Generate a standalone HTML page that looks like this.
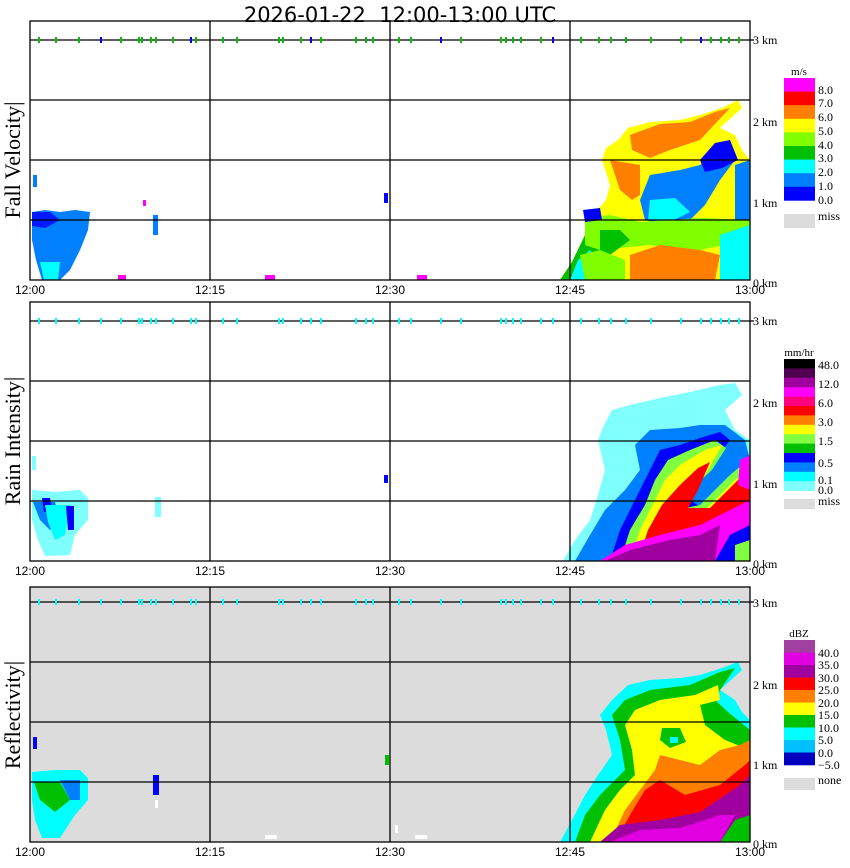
<!DOCTYPE html>
<html><head><meta charset="utf-8">
<style>
body{margin:0;background:#fff;}
svg{display:block;font-family:"Liberation Serif",serif;}
</style></head><body>
<svg width="850" height="868" viewBox="0 0 850 868" xmlns="http://www.w3.org/2000/svg">
<text x="400" y="22" font-family="DejaVu Sans,sans-serif" font-size="21" text-anchor="middle" style="white-space:pre" xml:space="preserve">2026-01-22  12:00-13:00 UTC</text>

<!-- Panel 1 -->
<g id="p1">
<polygon points="32,212 45,210 60,212 75,210 90,212 88,230 80,250 70,270 60,280 42,280 36,260 32,240" fill="#0080ff"/>
<polygon points="32,212 50,212 60,220 45,228 32,226" fill="#0000ff" opacity=".8"/>
<polygon points="40,262 60,262 58,280 44,280" fill="#00ffff"/>
<rect x="33" y="175" width="4" height="12" fill="#0080ff"/>
<rect x="153" y="215" width="5" height="20" fill="#0080ff"/>
<rect x="384" y="193" width="4" height="10" fill="#0000ff"/>
<rect x="143" y="200" width="3" height="6" fill="#ff00ff"/>
<rect x="118" y="275" width="8" height="5" fill="#ff00ff"/>
<rect x="265" y="275" width="10" height="5" fill="#ff00ff"/>
<rect x="417" y="275" width="10" height="5" fill="#ff00ff"/>
<polygon points="560,280 572,262 585,235 596,212 606,200 610,185 602,160 606,148 618,140 628,128 650,122 680,120 700,115 722,108 738,100 742,108 720,128 735,135 742,150 750,160 750,280" fill="#ffff00"/>
<polygon points="560,280 572,262 585,235 596,212 600,220 612,222 615,240 605,250 600,280" fill="#00c000"/>
<polygon points="570,280 578,260 590,250 598,262 590,280" fill="#00ffff"/>
<polygon points="630,135 660,124 690,122 715,112 730,108 700,140 670,150 650,158 632,150" fill="#ff8000"/>
<polygon points="610,160 640,165 640,195 632,200 620,190" fill="#ff8000"/>
<polygon points="650,175 680,170 700,165 720,150 730,145 735,160 720,180 705,205 690,220 665,225 645,220 640,200" fill="#0080ff"/>
<polygon points="700,160 715,143 730,140 738,160 722,168 705,172" fill="#0000ff"/>
<polygon points="735,165 750,160 750,230 735,225" fill="#0080ff"/>
<polygon points="650,200 675,198 690,212 670,222 648,220" fill="#00ffff"/>
<polygon points="585,218 610,215 640,222 700,218 750,220 750,240 700,250 650,245 600,250 585,245" fill="#80ff00"/>
<polygon points="600,230 620,230 630,240 610,255 600,250" fill="#00c000"/>
<polygon points="720,235 750,225 750,280 720,280" fill="#00ffff"/>
<polygon points="630,255 660,245 700,250 720,255 715,280 630,280" fill="#ff8000"/>
<polygon points="580,255 600,250 625,260 625,280 585,280" fill="#80ff00"/>
<polygon points="583,210 600,208 602,220 585,222" fill="#0000ff"/>
</g>

<!-- Panel 2 -->
<g>
<polygon points="32,456 36,456 36,470 32,470" fill="#80ffff"/>
<polygon points="32,490 55,492 80,490 88,498 88,520 75,535 70,555 45,556 38,540 32,520" fill="#80ffff"/>
<polygon points="33,502 55,502 60,520 50,530 40,520" fill="#0080ff"/>
<polygon points="42,498 50,498 52,512 44,512" fill="#0000ff"/>
<polygon points="45,505 70,505 65,535 55,540 48,522" fill="#00ffff"/>
<polygon points="66,506 74,506 74,530 68,530" fill="#0000ff"/>
<rect x="155" y="497" width="6" height="20" fill="#80ffff"/>
<rect x="384" y="475" width="4" height="8" fill="#0000ff"/>
<polygon points="563,561 575,540 590,520 598,495 605,470 598,440 604,425 612,410 630,405 660,398 690,392 720,385 735,383 742,395 725,410 735,430 750,440 750,561" fill="#80ffff"/>
<polygon points="575,561 590,535 605,510 625,490 640,470 635,445 650,430 680,428 700,425 725,425 745,440 750,460 750,561" fill="#0080ff"/>
<polygon points="610,561 620,530 635,500 650,470 660,450 680,445 700,438 720,432 730,440 715,460 700,475 690,500 705,510 730,480 748,455 750,561" fill="#0000ff"/>
<polygon points="620,561 630,530 645,505 655,480 668,460 690,450 715,440 726,448 712,470 690,490 675,510 700,505 730,475 748,460 750,561" fill="#80ff40"/>
<polygon points="630,561 640,530 650,510 665,480 680,465 705,450 722,445 705,475 690,495 680,515 700,515 735,480 750,470 750,561" fill="#ffff00"/>
<polygon points="638,561 648,530 662,505 680,485 698,468 710,462 698,490 688,508 710,508 740,478 750,480 750,561" fill="#ff0000"/>
<polygon points="740,460 750,455 750,490 738,485" fill="#ff00ff"/>
<polygon points="600,561 625,545 660,535 700,525 740,505 750,500 750,561" fill="#ff00ff"/>
<polygon points="605,561 630,550 670,540 700,535 720,525 715,561" fill="#a000a0"/>
<polygon points="715,561 730,535 750,525 750,561" fill="#0000ff"/>
<polygon points="735,545 750,540 750,561 735,561" fill="#80ff40"/>
</g>

<rect x="30" y="587" width="720" height="255" fill="#dcdcdc"/>
<g>
<polygon points="32,772 55,770 80,770 88,778 88,800 75,815 60,838 42,838 35,820 32,800" fill="#00ffff"/>
<polygon points="34,782 60,782 70,800 55,812 40,800" fill="#00c000"/>
<polygon points="60,780 80,780 80,800 70,800" fill="#0080ff"/>
<rect x="33" y="737" width="4" height="12" fill="#0000ff"/>
<rect x="153" y="775" width="6" height="20" fill="#0000ff"/>
<rect x="385" y="755" width="4" height="10" fill="#00c000"/>
<rect x="155" y="800" width="3" height="8" fill="#fff"/>
<rect x="395" y="825" width="3" height="8" fill="#fff"/>
<rect x="265" y="835" width="12" height="4" fill="#fff"/>
<rect x="415" y="835" width="12" height="4" fill="#fff"/>
<polygon points="560,842 572,820 585,795 598,775 605,765 612,755 606,730 600,715 612,700 628,685 650,680 680,678 700,675 722,668 738,662 742,670 720,690 735,700 742,712 750,720 750,842" fill="#00ffff"/>
<polygon points="575,842 585,815 600,795 615,780 625,770 620,740 612,715 625,700 650,690 690,685 720,672 735,668 720,690 715,700 728,712 750,730 750,842" fill="#00c000"/>
<polygon points="590,842 605,810 620,790 635,775 632,750 625,725 635,710 660,700 695,695 718,685 720,700 700,705 705,725 725,740 750,750 750,842" fill="#ffff00"/>
<polygon points="662,728 680,728 686,742 670,748 660,740" fill="#00c000"/>
<polygon points="670,737 678,737 678,743 670,743" fill="#00ffff"/>
<polygon points="610,842 625,810 640,790 655,770 660,755 680,760 700,765 720,750 740,745 750,740 750,842" fill="#ff8000"/>
<polygon points="615,842 630,815 645,790 660,780 685,795 720,785 745,765 750,760 750,842" fill="#ff0000"/>
<polygon points="600,842 620,825 660,820 700,812 740,785 750,775 750,842" fill="#a000a0"/>
<polygon points="610,842 640,830 680,828 720,815 735,815 720,842" fill="#e000e0"/>
<polygon points="720,842 735,820 750,815 750,842" fill="#00c000"/>
</g>

<g id="frames" fill="none" stroke="#000" stroke-width="1.3"></g>
<g id="labels" font-size="12"></g>
<g id="ticks"></g>
<g id="leg" font-size="12"></g>

<text transform="translate(20,160) rotate(-90)" font-size="22" text-anchor="middle">Fall Velocity|</text>
<text transform="translate(20,441) rotate(-90)" font-size="22" text-anchor="middle">Rain Intensity|</text>
<text transform="translate(20,715) rotate(-90)" font-size="22" text-anchor="middle">Reflectivity|</text>
</svg>
<script>
var NS="http://www.w3.org/2000/svg";
function el(p,t,a,txt){var e=document.createElementNS(NS,t);for(var k in a)e.setAttribute(k,a[k]);if(txt!=null)e.textContent=txt;p.appendChild(e);return e;}
var fr=document.getElementById('frames'),lb=document.getElementById('labels'),tk=document.getElementById('ticks'),lg=document.getElementById('leg');
var panels=[{t:21,b:280,g:[40,100,160,220],km:[[40,3],[122,2],[203,1],[283,0]],tc:'#00c000'},
{t:302,b:561,g:[321,381,441,501],km:[[321,3],[403,2],[484,1],[564,0]],tc:'#00ffff'},
{t:587,b:842,g:[602,662,722,782],km:[[603,3],[685,2],[765,1],[844,0]],tc:'#00ffff'}];
var tx=[38,55,78,100,120,138,141,150,155,172,190,195,222,236,278,282,300,310,320,355,365,372,398,410,440,460,500,505,512,520,540,552,580,598,610,625,650,680,700,710,720,728,738];
panels.forEach(function(p){
 el(fr,'rect',{x:30,y:p.t,width:720,height:p.b-p.t});
 p.g.forEach(function(y){el(fr,'line',{x1:30,x2:750,y1:y,y2:y});});
 [210,390,570].forEach(function(x){el(fr,'line',{x1:x,x2:x,y1:p.t,y2:p.b});});
 el(fr,'line',{x1:750,x2:754,y1:p.g[0],y2:p.g[0]});
 p.km.forEach(function(k){el(lb,'text',{x:753,y:k[0]+4},k[1]+' km');});
 [['12:00',30],['12:15',210],['12:30',390],['12:45',570],['13:00',750]].forEach(function(a){el(lb,'text',{x:a[1],y:p.b+14,'text-anchor':'middle','font-family':'Liberation Sans,sans-serif'},a[0]);});
 tx.forEach(function(x,i){el(tk,'rect',{x:x,y:p.g[0]-3,width:2,height:6,fill:(i%7==3&&p.tc=='#00c000')?'#0000ff':p.tc});});
});
function legend(y0,h,cols,labs,unit,miss,missy,mh){
 el(lg,'text',{x:799,y:y0-3,'text-anchor':'middle','font-size':'11'},unit);
 cols.forEach(function(c,i){el(lg,'rect',{x:784,y:y0+i*h,width:31,height:h+0.3,fill:c});});
 labs.forEach(function(l){el(lg,'text',{x:818,y:l[1]},l[0]);});
 el(lg,'rect',{x:784,y:missy,width:31,height:mh,fill:'#dcdcdc'});
 el(lg,'text',{x:818,y:missy+6},miss);
}
legend(78,13.6,['#ff00ff','#ff0000','#ff8000','#ffff00','#80ff00','#00c000','#00ffff','#0080ff','#0000ff'],
 [['8.0',94],['7.0',107],['6.0',121],['5.0',135],['4.0',149],['3.0',162],['2.0',176],['1.0',190],['0.0',204]],'m/s','miss',214,14);
legend(359,9.4,['#000','#500050','#a000a0','#ff00ff','#ff0080','#ff0000','#ff8000','#ffff00','#80ff40','#00c000','#0000ff','#0080ff','#00ffff','#80ffff'],
 [['48.0',369],['12.0',388],['6.0',407],['3.0',426],['1.5',445],['0.5',467],['0.1',484],['0.0',494]],'mm/hr','miss',499,10);
legend(640,12.5,['#a040a0','#e000e0','#a000a0','#ff0000','#ff8000','#ffff00','#00c000','#00ffff','#00c0ff','#0000c0'],
 [['40.0',657],['35.0',669],['30.0',682],['25.0',694],['20.0',707],['15.0',719],['10.0',732],['5.0',744],['0.0',757],['\u22125.0',769]],'dBZ','none',778,12);
</script>
</body></html>
